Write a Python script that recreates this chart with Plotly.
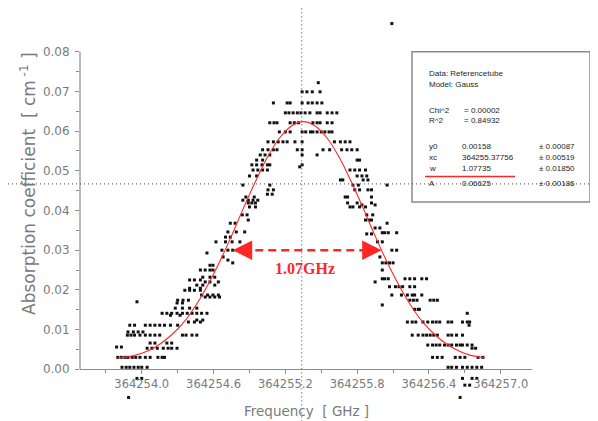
import plotly.graph_objects as go

# ---------------- data ----------------
# measured points, grouped by (quantised) absorption level
level_abs = [
    0.0030, 0.0005, 0.0056, 0.0053, 0.0066, 0.0086, 0.0094, 0.0111, 0.0119, 0.0141,
    0.0136, 0.0124, 0.0167, 0.0170, 0.0174, 0.0154, 0.0182, 0.0187, 0.0199, 0.0212,
    0.0204, 0.0225, 0.0220, 0.0232, 0.0250, 0.0262, 0.0283, 0.0275, 0.0268, 0.0293,
    0.0300, 0.0321, 0.0333, 0.0346, 0.0368, 0.0389, 0.0376, 0.0419, 0.0409, 0.0426,
    0.0434, 0.0452, 0.0464, 0.0441, 0.0487, 0.0502, 0.0515, 0.0527, 0.0540, 0.0553,
    0.0573, 0.0598, 0.0621, 0.0646, 0.0671, 0.0699, 0.0722, 0.0871, 0.0510,
    -0.0023, -0.0071,
    # right flank
    0.0573, 0.0553, 0.0527, 0.0502, 0.0487, 0.0477, 0.0464, 0.0452, 0.0434, 0.0419,
    0.0409, 0.0389, 0.0414, 0.0376, 0.0368, 0.0356, 0.0344, 0.0341, 0.0321, 0.0300,
    0.0283, 0.0268, 0.0250, 0.0228, 0.0220, 0.0208, 0.0187, 0.0174, 0.0162, 0.0151,
    0.0141, 0.0119, 0.0111, 0.0086, 0.0061, 0.0053, 0.0030, 0.0005, -0.0023, -0.0040,
    -0.0071,
]
level_freqs = [
    [364253.80, 364253.83, 364253.86, 364253.885, 364253.92, 364253.95, 364253.985, 364254.03, 364254.07, 364254.135, 364254.17, 364254.19],
    [364253.835, 364253.87, 364253.90, 364253.935, 364253.97, 364254.00, 364254.045],
    [364253.79, 364253.83],
    [364254.045, 364254.085, 364254.13, 364254.18, 364254.22, 364254.25, 364254.295],
    [364254.07, 364254.11, 364254.21, 364254.25],
    [364253.88, 364253.91, 364253.94, 364253.985, 364254.03, 364254.07, 364254.11, 364254.15, 364254.34, 364254.37, 364254.42, 364254.46],
    [364253.885, 364253.93, 364253.97, 364254.01],
    [364253.90, 364253.94, 364254.03, 364254.07, 364254.11, 364254.15, 364254.19, 364254.24, 364254.30],
    [364254.39, 364254.44, 364254.49],
    [364254.17, 364254.21, 364254.25, 364254.295, 364254.34, 364254.38, 364254.42, 364254.46, 364254.50, 364254.545],
    [364254.24, 364254.32],
    [364254.46, 364254.51],
    [364254.295, 364254.34],
    [364253.96],
    [364254.30, 364254.345, 364254.39],
    [364254.28, 364254.34, 364254.40, 364254.46],
    [364254.53, 364254.57, 364254.61, 364254.65],
    [364254.50, 364254.55, 364254.595, 364254.64],
    [364254.36, 364254.40, 364254.44, 364254.49],
    [364254.46, 364254.51, 364254.61],
    [364254.40, 364254.49],
    [364254.40, 364254.44, 364254.49],
    [364254.53, 364254.57, 364254.64],
    [364254.51, 364254.57, 364254.61],
    [364254.49, 364254.53, 364254.57, 364254.595],
    [364254.57, 364254.595],
    [364254.68],
    [364254.72],
    [364254.76],
    [364254.545],
    [364254.67, 364254.72, 364254.76],
    [364254.62, 364254.70, 364254.755, 364254.82],
    [364254.70, 364254.74],
    [364254.72, 364254.79, 364254.86],
    [364254.74, 364254.78],
    [364254.84, 364254.88],
    [364254.89],
    [364254.89, 364254.92, 364254.95],
    [364254.90, 364254.95],
    [364254.845, 364254.89, 364254.93, 364254.97],
    [364254.87, 364254.94],
    [364255.055, 364255.10],
    [364254.845, 364255.07],
    [364255.05, 364255.09],
    [364254.90, 364254.96],
    [364254.93, 364254.97, 364255.01, 364255.05],
    [364254.92, 364254.96, 364255.005, 364255.05, 364255.07, 364255.34],
    [364254.96, 364255.01],
    [364254.99, 364255.03, 364255.07, 364255.34, 364255.465],
    [364255.01, 364255.055, 364255.10, 364255.13, 364255.30, 364255.34, 364255.515, 364255.57],
    [364255.055, 364255.10, 364255.14, 364255.18, 364255.215, 364255.28, 364255.34],
    [364255.15, 364255.20, 364255.24, 364255.34, 364255.37, 364255.41, 364255.43, 364255.465, 364255.50, 364255.53, 364255.565, 364255.59],
    [364255.07, 364255.105, 364255.13, 364255.24, 364255.275, 364255.31, 364255.43, 364255.465, 364255.49, 364255.55, 364255.59],
    [364255.20, 364255.23, 364255.265, 364255.30, 364255.33, 364255.365, 364255.405, 364255.465, 364255.49, 364255.55, 364255.59, 364255.63],
    [364255.10, 364255.215, 364255.24, 364255.34, 364255.39, 364255.425, 364255.465, 364255.505],
    [364255.34, 364255.38, 364255.425, 364255.49],
    [364255.475],
    [364256.09],
    [364255.32],
    [364253.96, 364254.00],
    [364253.89],
    # right flank
    [364255.61, 364255.66, 364255.70, 364255.74],
    [364255.67, 364255.715, 364255.755, 364255.80],
    [364255.80, 364255.82],
    [364255.74, 364255.78, 364255.82, 364255.87],
    [364255.80, 364255.84, 364255.88],
    [364255.66, 364255.68, 364255.85, 364255.89],
    [364255.765, 364255.81, 364256.05],
    [364255.78, 364255.82, 364255.89, 364255.92],
    [364255.70, 364255.72, 364255.92],
    [364255.72, 364255.80, 364255.92],
    [364255.74, 364255.765, 364255.82, 364255.87],
    [364255.88, 364255.93],
    [364255.84, 364255.95],
    [364255.87, 364255.90, 364255.92],
    [364256.05],
    [364255.95, 364255.99],
    [364256.01, 364256.03, 364256.06, 364256.13],
    [364255.88, 364255.92],
    [364255.97, 364256.01],
    [364256.09, 364256.13],
    [364255.99],
    [364256.01, 364256.04, 364256.07, 364256.10],
    [364256.01],
    [364256.01, 364256.03, 364256.06, 364256.20, 364256.24, 364256.28, 364256.34, 364256.38],
    [364255.95],
    [364256.07, 364256.12, 364256.15, 364256.18, 364256.24, 364256.28],
    [364256.09, 364256.17, 364256.22, 364256.26, 364256.28, 364256.34],
    [364256.24, 364256.27, 364256.30, 364256.41, 364256.44, 364256.47],
    [364256.01],
    [364256.28, 364256.31, 364256.32],
    [364256.72],
    [364256.22, 364256.26, 364256.29, 364256.35, 364256.39, 364256.43, 364256.46, 364256.49, 364256.56, 364256.59, 364256.68, 364256.72, 364256.74],
    [364256.735],
    [364256.26, 364256.31, 364256.35, 364256.38, 364256.41, 364256.44, 364256.47, 364256.56, 364256.59, 364256.63, 364256.68],
    [364256.39, 364256.43, 364256.46, 364256.49, 364256.53, 364256.56, 364256.59, 364256.63, 364256.66, 364256.68, 364256.72, 364256.76],
    [364256.76, 364256.79],
    [364256.43, 364256.47, 364256.51, 364256.62, 364256.66, 364256.70, 364256.81, 364256.85],
    [364256.56, 364256.59, 364256.63, 364256.68, 364256.72, 364256.76, 364256.80, 364256.84],
    [364256.68, 364256.76, 364256.80],
    [364256.70, 364256.74],
    [364256.66],
]

# Gauss fit curve
fit_freq = [364253.80, 364253.85, 364253.95, 364254.05, 364254.15, 364254.25, 364254.35, 364254.45,
            364254.55, 364254.65, 364254.75, 364254.85, 364254.95, 364255.05, 364255.15, 364255.25,
            364255.35, 364255.45, 364255.55, 364255.65, 364255.75, 364255.85, 364255.95, 364256.05,
            364256.15, 364256.25, 364256.35, 364256.45, 364256.55, 364256.65, 364256.75, 364256.85,
            364256.87]
fit_abs = [0.0029, 0.0030, 0.0036, 0.0046, 0.0063, 0.0087, 0.0118, 0.0160,
           0.0211, 0.0270, 0.0336, 0.0406, 0.0473, 0.0534, 0.0582, 0.0613,
           0.0624, 0.0613, 0.0582, 0.0534, 0.0473, 0.0406, 0.0336, 0.0270,
           0.0211, 0.0160, 0.0118, 0.0087, 0.0063, 0.0046, 0.0035, 0.0030,
           0.0029]

# FWHM marker
fwhm_left = 364254.76
fwhm_right = 364256.005
fwhm_level = 0.0300
fwhm_label = "1.07GHz"
label_freq = 364255.36
label_abs = 0.0255

# cursor cross-hair
cursor_freq = 364255.337
cursor_abs = 0.0467

# axes
x_range = [364253.484, 364257.261]
y_axis_span = [0.0, 0.08]          # drawn part of the y axis
y_view = [-0.0085, 0.0885]         # room for stray points outside the axis
y_ticks = [0.00, 0.01, 0.02, 0.03, 0.04, 0.05, 0.06, 0.07, 0.08]
y_minor = [0.005, 0.015, 0.025, 0.035, 0.045, 0.055, 0.065, 0.075]
x_title = "Frequency  [ GHz ]"
y_title = "Absorption coefficient  [ cm<sup> -1</sup> ]"

fit_rows = [
    ("y0", "0.00158", "\u00b1 0.00087"),
    ("xc", "364255.37756", "\u00b1 0.00519"),
    ("w", "1.07735", "\u00b1 0.01850"),
    ("A", "0.06625", "\u00b1 0.00186"),
]

freq = []
absorb = []
for lv, fs in zip(level_abs, level_freqs):
    for f in fs:
        freq.append(f)
        absorb.append(lv)

# ---------------- figure ----------------
# page body has an 8px margin; window pixel layout of the reference:
OFF = 8
PL, PR = 80, 532                 # x extent of plot area (window px)
Y0PIX, Y8PIX = 369, 52           # window px of y=0 and y=0.08
upx = (Y0PIX - Y8PIX) / (y_axis_span[1] - y_axis_span[0])
PT = Y0PIX - (y_view[1] - 0.0) * upx
PB = Y0PIX + (0.0 - y_view[0]) * upx
W, H = 598 - OFF, 421 - OFF
L, T = PL - OFF, PT - OFF
R, B = 598 - PR, 421 - PB
pw, ph = PR - PL, PB - PT


def px(x):
    return (x - PL) / pw


def py(y):
    return (PB - y) / ph


def yfrac(v):
    return (v - y_view[0]) / (y_view[1] - y_view[0])


AX = "#8c8c8c"
TXT = "#7a7a7a"
RED = "#ff2626"

fig = go.Figure()
fig.add_trace(go.Scatter(
    x=freq, y=absorb, mode="markers",
    marker=dict(symbol="square", size=3, color="#111111", line=dict(width=0)),
    cliponaxis=False, showlegend=False, hoverinfo="skip"))
fig.add_trace(go.Scatter(
    x=fit_freq, y=fit_abs, mode="lines", line=dict(color=RED, width=1.1, shape="spline"),
    showlegend=False, hoverinfo="skip"))

shapes = []
# y axis line (only from 0 to 0.08)
shapes.append(dict(type="line", xref="paper", yref="paper", x0=0, x1=0,
                   y0=yfrac(y_axis_span[0]), y1=yfrac(y_axis_span[1]),
                   line=dict(color=AX, width=1.2), layer="above"))
# dashed FWHM line
shapes.append(dict(type="line", xref="x", yref="y", x0=fwhm_left + 0.08, x1=fwhm_right - 0.08,
                   y0=fwhm_level, y1=fwhm_level, line=dict(color=RED, width=2.6, dash="8px,5px")))
# parameter box
shapes.append(dict(type="rect", xref="paper", yref="paper", x0=px(412), x1=px(590), y0=py(202), y1=py(52),
                   fillcolor="white", line=dict(color="#8a8a8a", width=1.5), layer="above"))
# red underline of w row
shapes.append(dict(type="line", xref="paper", yref="paper", x0=px(425), x1=px(515), y0=py(176.5), y1=py(176.5),
                   line=dict(color=RED, width=1.5), layer="above"))
# cross-hair
cx = (cursor_freq - x_range[0]) / (x_range[1] - x_range[0])
cy = yfrac(cursor_abs)
shapes.append(dict(type="line", xref="paper", yref="paper", x0=px(0), x1=px(600), y0=cy, y1=cy,
                   line=dict(color="#444444", width=1, dash="1px,3px"), layer="above"))
shapes.append(dict(type="line", xref="paper", yref="paper", x0=cx, x1=cx, y0=py(425), y1=py(0),
                   line=dict(color="#444444", width=1, dash="1px,3px"), layer="above"))

ann = []
for tip, off in ((fwhm_left, 16), (fwhm_right, -16)):
    ann.append(dict(x=tip, y=fwhm_level, xref="x", yref="y", ax=off, ay=0, text="",
                    showarrow=True, arrowhead=2, arrowsize=1.5, arrowwidth=2.6, arrowcolor=RED))
ann.append(dict(x=label_freq, y=label_abs, xref="x", yref="y", text="<b>" + fwhm_label + "</b>",
                showarrow=False, font=dict(family="Liberation Serif", size=16, color=RED)))
# axis titles
ann.append(dict(x=px(306), y=py(411), xref="paper", yref="paper", text=x_title, showarrow=False,
                xanchor="center", yanchor="middle",
                font=dict(family="DejaVu Sans", size=13.5, color=TXT)))
ann.append(dict(x=px(28), y=py(184), xref="paper", yref="paper", text=y_title, showarrow=False,
                textangle=-90, xanchor="center", yanchor="middle",
                font=dict(family="DejaVu Sans", size=17, color=TXT)))

bf = dict(family="Liberation Sans", size=8, color="#1e1e1e")
for text, yy in (("Data: Referencetube", 74), ("Model: Gauss", 85), ("Chi^2", 111), ("R^2", 121)):
    ann.append(dict(x=px(427), y=py(yy), xref="paper", yref="paper", text=text, showarrow=False,
                    xanchor="left", yanchor="middle", font=bf))
for text, yy in (("= 0.00002", 111), ("= 0.84932", 121)):
    ann.append(dict(x=px(462), y=py(yy), xref="paper", yref="paper", text=text, showarrow=False,
                    xanchor="left", yanchor="middle", font=bf))
for (name, val, err), yy in zip(fit_rows, (147, 158, 169, 184)):
    ann.append(dict(x=px(427), y=py(yy), xref="paper", yref="paper", text=name, showarrow=False,
                    xanchor="left", yanchor="middle", font=bf))
    ann.append(dict(x=px(460), y=py(yy), xref="paper", yref="paper", text=val, showarrow=False,
                    xanchor="left", yanchor="middle", font=bf))
    ann.append(dict(x=px(537), y=py(yy), xref="paper", yref="paper", text=err, showarrow=False,
                    xanchor="left", yanchor="middle", font=bf))

fig.update_layout(
    width=W, height=H, margin=dict(l=L, r=R, t=T, b=B, autoexpand=False),
    paper_bgcolor="white", plot_bgcolor="white",
    shapes=shapes, annotations=ann,
    xaxis=dict(range=x_range, anchor="free", position=yfrac(0.0),
               showgrid=False, zeroline=False, showline=True, linecolor=AX, linewidth=1.2,
               ticks="outside", ticklen=4, tickcolor=AX, tick0=364254.0, dtick=0.6, tickformat=".1f",
               tickfont=dict(family="DejaVu Sans", size=11.5, color=TXT),
               minor=dict(ticks="outside", ticklen=3, dtick=0.3, tickcolor=AX)),
    yaxis=dict(range=y_view, showgrid=False, zeroline=False, showline=False,
               ticks="outside", ticklen=4, tickcolor=AX, tickvals=y_ticks, tickformat=".2f",
               tickfont=dict(family="DejaVu Sans", size=12, color=TXT), ticklabelstandoff=3,
               minor=dict(ticks="outside", ticklen=3, tickvals=y_minor, tickcolor=AX)),
)

fig.write_html("out.html")
